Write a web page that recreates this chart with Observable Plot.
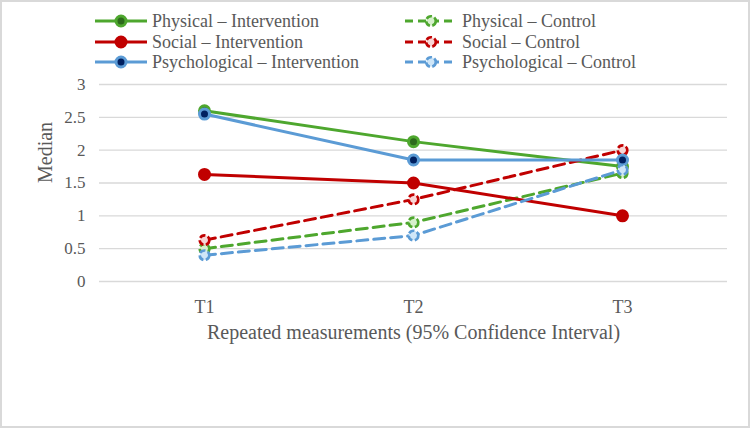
<!DOCTYPE html>
<html><head><meta charset="utf-8">
<script src="https://cdn.jsdelivr.net/npm/d3@7"></script>
<script src="https://cdn.jsdelivr.net/npm/@observablehq/plot@0.6"></script>
<style>
body{margin:0;background:#fff;}
#wrap{position:relative;width:750px;height:428px;overflow:hidden;font-family:"Liberation Serif","Times New Roman",serif;color:#595959;background:#fff;}
#frame{position:absolute;left:0;top:0;width:750px;height:428px;box-sizing:border-box;border:2px solid #d9d9d9;pointer-events:none;}
#plot{position:absolute;left:0;top:0;}
.item{position:absolute;height:20px;display:flex;align-items:center;font-size:18px;white-space:nowrap;}
.item svg{margin-right:5px;flex:none;}
</style></head><body>
<div id="wrap"><div id="plot"></div><div id="legend"></div><div id="frame"></div></div>
<script>
// ---- data ----
const categories = ["T1", "T2", "T3"];
const seriesNames = [
  "Physical – Intervention", "Physical – Control",
  "Social – Intervention", "Social – Control",
  "Psychological – Intervention", "Psychological – Control"
];
const physicalIntervention = [2.6, 2.13, 1.75];
const physicalControl = [0.5, 0.9, 1.65];
const socialIntervention = [1.63, 1.5, 1.0];
const socialControl = [0.63, 1.25, 2.0];
const psychologicalIntervention = [2.55, 1.85, 1.85];
const psychologicalControl = [0.4, 0.7, 1.7];
const yTicks = [0, 0.5, 1, 1.5, 2, 2.5, 3];
const yTickLabels = ["0", "0.5", "1", "1.5", "2", "2.5", "3"];
const xTitle = "Repeated measurements (95% Confidence Interval)";
const yTitle = "Median";

const seriesValues = [physicalIntervention, physicalControl, socialIntervention,
  socialControl, psychologicalIntervention, psychologicalControl];

// ---- styles ----
const styles = {
  "Physical – Intervention": {color: "#4ea72e", fill: "#2d6a1c", dashed: false},
  "Physical – Control": {color: "#4ea72e", fill: "#d7f0cc", dashed: true},
  "Social – Intervention": {color: "#c00000", fill: "#c00000", dashed: false},
  "Social – Control": {color: "#c00000", fill: "#f7d6d6", dashed: true},
  "Psychological – Intervention": {color: "#5b9bd5", fill: "#002060", dashed: false},
  "Psychological – Control": {color: "#5b9bd5", fill: "#cfe6f8", dashed: true}
};
const LINE_DASH = "11,6";
const RING_DASH = "6,2.5";

const rows = seriesNames.flatMap((s, k) =>
  categories.map((t, i) => ({series: s, time: t, value: seriesValues[k][i]})));

const marks = [
  Plot.gridY(yTicks, {stroke: "#d9d9d9", strokeOpacity: 1, strokeWidth: 1.4}),
  Plot.axisY(yTicks, {tickSize: 0, tickPadding: 14, fontSize: 17, label: null,
    tickFormat: (d) => yTickLabels[yTicks.indexOf(d)]}),
  Plot.axisX({tickSize: 0, tickPadding: 19, fontSize: 18, label: null}),
  Plot.text([xTitle], {frameAnchor: "bottom", dy: 51, lineAnchor: "middle", fontSize: 20, fill: "#595959"}),
  Plot.text([yTitle], {frameAnchor: "left", dx: -54, rotate: -90, fontSize: 20, fill: "#595959"})
];
for (const s of seriesNames) {
  const st = styles[s];
  const data = rows.filter((d) => d.series === s);
  marks.push(Plot.line(data, {x: "time", y: "value", stroke: st.color, strokeWidth: 3,
    strokeDasharray: st.dashed ? LINE_DASH : null, strokeLinejoin: "round"}));
  marks.push(Plot.dot(data, {x: "time", y: "value", r: st.dashed ? 4.8 : 5, fill: st.fill,
    stroke: st.color, strokeWidth: st.dashed ? 2.6 : 3,
    strokeDasharray: st.dashed ? RING_DASH : null}));
}

const chart = Plot.plot({
  width: 750, height: 428,
  marginTop: 84, marginBottom: 147, marginLeft: 99, marginRight: 23,
  style: {fontFamily: "'Liberation Serif','Times New Roman',serif", color: "#595959", background: "transparent"},
  x: {type: "point", domain: categories, padding: 0.5},
  y: {domain: [0, 3]},
  marks
});
document.getElementById("plot").appendChild(chart);

// ---- legend ----
const legend = document.getElementById("legend");
const colLeft = [95, 405];
const rowCenter = [21, 42, 62];
seriesNames.forEach((s, k) => {
  const st = styles[s];
  const item = document.createElement("div");
  item.className = "item";
  item.style.left = colLeft[k % 2] + "px";
  item.style.top = (rowCenter[Math.floor(k / 2)] - 10) + "px";
  const ns = "http://www.w3.org/2000/svg";
  const svg = document.createElementNS(ns, "svg");
  svg.setAttribute("width", 52); svg.setAttribute("height", 18);
  const ln = document.createElementNS(ns, "line");
  ln.setAttribute("x1", 0); ln.setAttribute("x2", 52); ln.setAttribute("y1", 9); ln.setAttribute("y2", 9);
  ln.setAttribute("stroke", st.color); ln.setAttribute("stroke-width", 3);
  if (st.dashed) ln.setAttribute("stroke-dasharray", "8,5");
  const c = document.createElementNS(ns, "circle");
  c.setAttribute("cx", 26); c.setAttribute("cy", 9); c.setAttribute("r", st.dashed ? 4.8 : 5);
  c.setAttribute("fill", st.fill); c.setAttribute("stroke", st.color);
  c.setAttribute("stroke-width", st.dashed ? 2.6 : 3);
  if (st.dashed) c.setAttribute("stroke-dasharray", RING_DASH);
  svg.appendChild(ln); svg.appendChild(c);
  const span = document.createElement("span");
  span.textContent = s;
  item.appendChild(svg); item.appendChild(span);
  legend.appendChild(item);
});
</script>
</body></html>
